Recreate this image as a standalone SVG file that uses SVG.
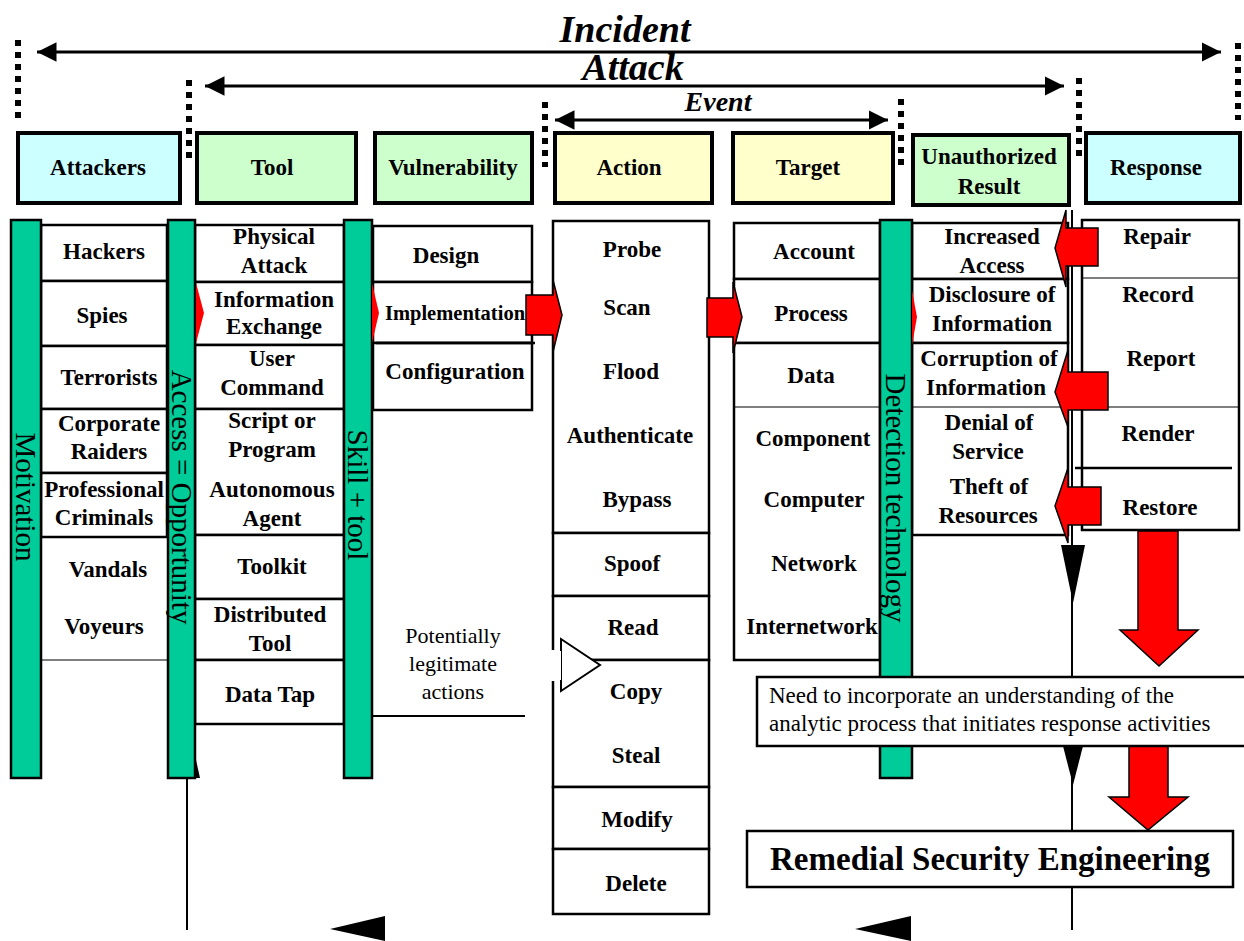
<svg xmlns="http://www.w3.org/2000/svg" width="1244" height="941" viewBox="0 0 1244 941">
<defs>
<style>
.hdr{stroke:#000;stroke-width:4}
.cy{fill:#ccffff}.gr{fill:#ccffcc}.ye{fill:#ffffcc}
.cell{fill:#fff;stroke:#000;stroke-width:2.5}
.thin{stroke:#000;stroke-width:1.2;fill:none}
.bar{fill:#00cc99;stroke:#000;stroke-width:2.5}
.lbl{font-family:"Liberation Serif","Times New Roman",serif;font-weight:bold;font-size:23px;text-anchor:middle;fill:#000}
.vt{font-family:"Liberation Serif","Times New Roman",serif;font-size:29px;text-anchor:middle;fill:#000}
.ttl{font-family:"Liberation Serif","Times New Roman",serif;font-weight:bold;font-style:italic;text-anchor:middle;fill:#000}
.txt{font-family:"Liberation Serif","Times New Roman",serif;font-size:23px;fill:#000}
.dot{stroke:#000;stroke-width:6;stroke-dasharray:6 6;fill:none}
.ln{stroke:#000;stroke-width:3;fill:none}
.red{fill:#ff0000}
.redo{fill:#ff0000;stroke:#000;stroke-width:1.5}
</style>
<marker id="ah" viewBox="0 0 10 10" refX="10" refY="5" markerWidth="6.5" markerHeight="6.5" orient="auto-start-reverse" markerUnits="strokeWidth">
<path d="M0,0 L10,5 L0,10 z" fill="#000"/>
</marker>
</defs>

<!-- scope arrows and titles -->
<g id="scopes">
<line class="dot" x1="18" y1="40" x2="18" y2="118"/>
<line class="dot" x1="189" y1="80" x2="189" y2="160"/>
<line class="dot" x1="545" y1="102" x2="545" y2="167"/>
<line class="dot" x1="901" y1="99" x2="901" y2="165"/>
<line class="dot" x1="1079" y1="78" x2="1079" y2="156"/>
<line class="dot" x1="1238" y1="43" x2="1238" y2="120"/>
<line class="ln" x1="37" y1="52" x2="1221" y2="52" marker-start="url(#ah)" marker-end="url(#ah)"/>
<line class="ln" x1="205" y1="86" x2="1064" y2="86" marker-start="url(#ah)" marker-end="url(#ah)"/>
<line class="ln" x1="555" y1="120" x2="888" y2="120" marker-start="url(#ah)" marker-end="url(#ah)"/>
<text class="ttl" x="625" y="42" style="font-size:38px">Incident</text>
<text class="ttl" x="633" y="80" style="font-size:38px">Attack</text>
<text class="ttl" x="718" y="111" style="font-size:28px">Event</text>
</g>

<!-- header nodes -->
<g id="h-attackers"><rect class="hdr cy" x="18" y="133" width="162" height="70"/><text class="lbl" x="98" y="175">Attackers</text></g>
<g id="h-tool"><rect class="hdr gr" x="197" y="133" width="159" height="70"/><text class="lbl" x="272" y="175">Tool</text></g>
<g id="h-vuln"><rect class="hdr gr" x="375" y="133" width="157" height="70"/><text class="lbl" x="453" y="175">Vulnerability</text></g>
<g id="h-action"><rect class="hdr ye" x="555" y="133" width="157" height="70"/><text class="lbl" x="629" y="175">Action</text></g>
<g id="h-target"><rect class="hdr ye" x="733" y="133" width="160" height="70"/><text class="lbl" x="808" y="175">Target</text></g>
<g id="h-result"><rect class="hdr gr" x="913" y="135" width="156" height="70"/><text class="lbl" x="989" y="164">Unauthorized</text><text class="lbl" x="989" y="194">Result</text></g>
<g id="h-response"><rect class="hdr cy" x="1086" y="133" width="154" height="70"/><text class="lbl" x="1156" y="175">Response</text></g>

<!-- long vertical connector lines -->
<g id="connectors">
<line x1="1072" y1="210" x2="1072" y2="930" stroke="#000" stroke-width="2"/>
<polygon points="1061,545 1085,545 1073,603" fill="#000"/>
<polygon points="1063,746 1083,746 1073,785" fill="#000"/>
<line x1="187" y1="778" x2="187" y2="930" stroke="#000" stroke-width="2"/>
<polygon points="190,778 200,778 196,760" fill="#000"/>
<polygon points="330,929 385,916 385,941" fill="#000"/>
<polygon points="855,929 911,916 911,941" fill="#000"/>
<line x1="371" y1="716" x2="525" y2="716" stroke="#000" stroke-width="2"/>
</g>

<!-- Attackers column -->
<g id="attackers">
<rect class="cell" x="41" y="225" width="126" height="56"/>
<rect class="cell" x="41" y="281" width="126" height="65"/>
<rect class="cell" x="41" y="346" width="126" height="63"/>
<rect class="cell" x="41" y="409" width="126" height="64"/>
<rect class="cell" x="41" y="473" width="126" height="64"/>
<path class="thin" d="M41,537 V660 H167"/>
<text class="lbl" x="104" y="259">Hackers</text>
<text class="lbl" x="102" y="323">Spies</text>
<text class="lbl" x="109" y="385">Terrorists</text>
<text class="lbl" x="109" y="431">Corporate</text>
<text class="lbl" x="109" y="459">Raiders</text>
<text class="lbl" x="104" y="497">Professional</text>
<text class="lbl" x="104" y="525">Criminals</text>
<text class="lbl" x="108" y="577">Vandals</text>
<text class="lbl" x="104" y="634">Voyeurs</text>
</g>

<!-- Tool column -->
<g id="tool">
<rect class="cell" x="195" y="225" width="149" height="57"/>
<rect class="cell" x="195" y="282" width="149" height="63"/>
<rect class="cell" x="195" y="345" width="149" height="64"/>
<rect class="cell" x="195" y="409" width="149" height="126"/>
<rect class="cell" x="195" y="535" width="149" height="64"/>
<rect class="cell" x="195" y="599" width="149" height="61"/>
<rect class="cell" x="195" y="660" width="149" height="64"/>
<text class="lbl" x="274" y="244">Physical</text>
<text class="lbl" x="274" y="273">Attack</text>
<text class="lbl" x="274" y="307">Information</text>
<text class="lbl" x="274" y="334">Exchange</text>
<text class="lbl" x="272" y="366">User</text>
<text class="lbl" x="272" y="395">Command</text>
<text class="lbl" x="272" y="428">Script or</text>
<text class="lbl" x="272" y="457">Program</text>
<text class="lbl" x="272" y="497">Autonomous</text>
<text class="lbl" x="272" y="526">Agent</text>
<text class="lbl" x="272" y="574">Toolkit</text>
<text class="lbl" x="270" y="622">Distributed</text>
<text class="lbl" x="270" y="651">Tool</text>
<text class="lbl" x="270" y="702">Data Tap</text>
</g>

<!-- Vulnerability column -->
<g id="vulnerability">
<rect class="cell" x="373" y="226" width="159" height="56"/>
<rect class="cell" x="373" y="282" width="159" height="61"/>
<rect class="cell" x="373" y="343" width="159" height="67"/>
<line x1="376" y1="343" x2="535" y2="343" stroke="#000" stroke-width="2.5"/>
<text class="lbl" x="446" y="263">Design</text>
<text class="lbl" x="455" y="320" style="font-size:20.5px">Implementation</text>
<text class="lbl" x="455" y="379">Configuration</text>
<text class="txt" x="453" y="643" text-anchor="middle" style="font-size:22px">Potentially</text>
<text class="txt" x="453" y="671" text-anchor="middle" style="font-size:22px">legitimate</text>
<text class="txt" x="453" y="699" text-anchor="middle" style="font-size:22px">actions</text>
</g>

<!-- Action column -->
<g id="action">
<rect class="cell" x="553" y="221" width="156" height="312"/>
<rect class="cell" x="553" y="533" width="156" height="63"/>
<rect class="cell" x="553" y="596" width="156" height="64"/>
<rect class="cell" x="553" y="660" width="156" height="127"/>
<rect class="cell" x="553" y="787" width="156" height="62"/>
<rect class="cell" x="553" y="849" width="156" height="65"/>
<text class="lbl" x="632" y="257">Probe</text>
<text class="lbl" x="627" y="315">Scan</text>
<text class="lbl" x="631" y="379">Flood</text>
<text class="lbl" x="630" y="443">Authenticate</text>
<text class="lbl" x="637" y="507">Bypass</text>
<text class="lbl" x="632" y="571">Spoof</text>
<text class="lbl" x="633" y="635">Read</text>
<text class="lbl" x="636" y="699">Copy</text>
<text class="lbl" x="636" y="763">Steal</text>
<text class="lbl" x="637" y="827">Modify</text>
<text class="lbl" x="636" y="891">Delete</text>
<rect x="545" y="650" width="17" height="31" fill="#fff"/>
<polygon points="561,650 561,639 600,665 561,691 561,681" fill="#fff" stroke="#000" stroke-width="2"/>
<line x1="559" y1="651" x2="559" y2="680" stroke="#fff" stroke-width="4"/>
</g>

<!-- Target column -->
<g id="target">
<rect class="cell" x="734" y="223" width="146" height="56"/>
<rect class="cell" x="734" y="279" width="146" height="64"/>
<rect class="cell" x="734" y="343" width="146" height="317"/>
<line class="thin" x1="734" y1="407" x2="880" y2="407"/>
<text class="lbl" x="814" y="259">Account</text>
<text class="lbl" x="811" y="321">Process</text>
<text class="lbl" x="811" y="383">Data</text>
<text class="lbl" x="813" y="446">Component</text>
<text class="lbl" x="814" y="507">Computer</text>
<text class="lbl" x="814" y="571">Network</text>
<text class="lbl" x="812" y="634">Internetwork</text>
</g>

<!-- Unauthorized result column -->
<g id="result">
<rect class="cell" x="912" y="223" width="156" height="56"/>
<rect class="cell" x="912" y="279" width="156" height="64"/>
<rect class="cell" x="912" y="343" width="156" height="192"/>
<line class="thin" x1="912" y1="407" x2="1068" y2="407"/>
<text class="lbl" x="992" y="244">Increased</text>
<text class="lbl" x="992" y="273">Access</text>
<text class="lbl" x="992" y="302">Disclosure of</text>
<text class="lbl" x="992" y="331">Information</text>
<text class="lbl" x="989" y="366">Corruption of</text>
<text class="lbl" x="986" y="395">Information</text>
<text class="lbl" x="989" y="430">Denial of</text>
<text class="lbl" x="988" y="459">Service</text>
<text class="lbl" x="989" y="494">Theft of</text>
<text class="lbl" x="988" y="523">Resources</text>
</g>

<!-- Response column -->
<g id="response">
<rect class="cell" x="1082" y="220" width="157" height="310"/>
<line class="thin" x1="1082" y1="278" x2="1239" y2="278"/>
<line class="thin" x1="1082" y1="407" x2="1239" y2="407"/>
<line x1="1075" y1="468" x2="1232" y2="468" stroke="#000" stroke-width="2.5"/>
<text class="lbl" x="1157" y="244">Repair</text>
<text class="lbl" x="1158" y="302">Record</text>
<text class="lbl" x="1161" y="366">Report</text>
<text class="lbl" x="1158" y="441">Render</text>
<text class="lbl" x="1160" y="515">Restore</text>
</g>

<!-- vertical factor bars -->
<g id="motivation"><rect class="bar" x="11" y="220" width="30" height="558"/><text class="vt" transform="translate(26,497) rotate(90)" dy="10">Motivation</text></g>
<g id="access"><rect class="bar" x="168" y="220" width="27" height="558"/><text class="vt" transform="translate(181.5,497) rotate(90)" dy="10">Access = Opportunity</text></g>
<g id="skill"><rect class="bar" x="344" y="220" width="28" height="558"/><text class="vt" transform="translate(358,495) rotate(90)" dy="10">Skill + tool</text></g>
<g id="detection"><rect class="bar" x="880" y="220" width="32" height="558"/><text class="vt" transform="translate(896,498) rotate(90)" dy="10">Detection technology</text></g>

<!-- red flow arrows -->
<g id="red-arrows">
<polygon class="red" points="196,283 204,313 196,343"/>
<polygon class="red" points="372,283 379,313 372,343"/>
<polygon class="red" points="912,290 917,317 912,345"/>
<polygon class="redo" points="526,295 553,295 553,280 562,315 553,352 553,335 526,335"/>
<polygon class="redo" points="707,298 733,298 733,282 742,317 733,353 733,337 707,337"/>
<polygon class="redo" points="1098,228 1066,228 1066,210 1055,248 1066,287 1066,266 1098,266"/>
<polygon class="redo" points="1108,372 1068,372 1068,350 1055,392 1068,427 1068,410 1108,410"/>
<polygon class="redo" points="1101,487 1068,487 1068,468 1055,506 1068,543 1068,525 1101,525"/>
<polygon class="redo" points="1138,531 1178,531 1178,630 1198,630 1159,666 1120,630 1138,630"/>
<polygon class="redo" points="1129,746 1168,746 1168,797 1188,797 1148,830 1109,797 1129,797"/>
</g>

<!-- notes -->
<g id="note">
<rect x="757" y="677" width="490" height="69" fill="#fff" stroke="#000" stroke-width="2.5"/>
<text class="txt" x="769" y="703">Need to incorporate an understanding of the</text>
<text class="txt" x="769" y="731">analytic process that initiates response activities</text>
</g>
<g id="remedial">
<rect x="747" y="831" width="486" height="56" fill="#fff" stroke="#000" stroke-width="2.5"/>
<text class="lbl" x="990" y="870" style="font-size:33px">Remedial Security Engineering</text>
</g>
</svg>
